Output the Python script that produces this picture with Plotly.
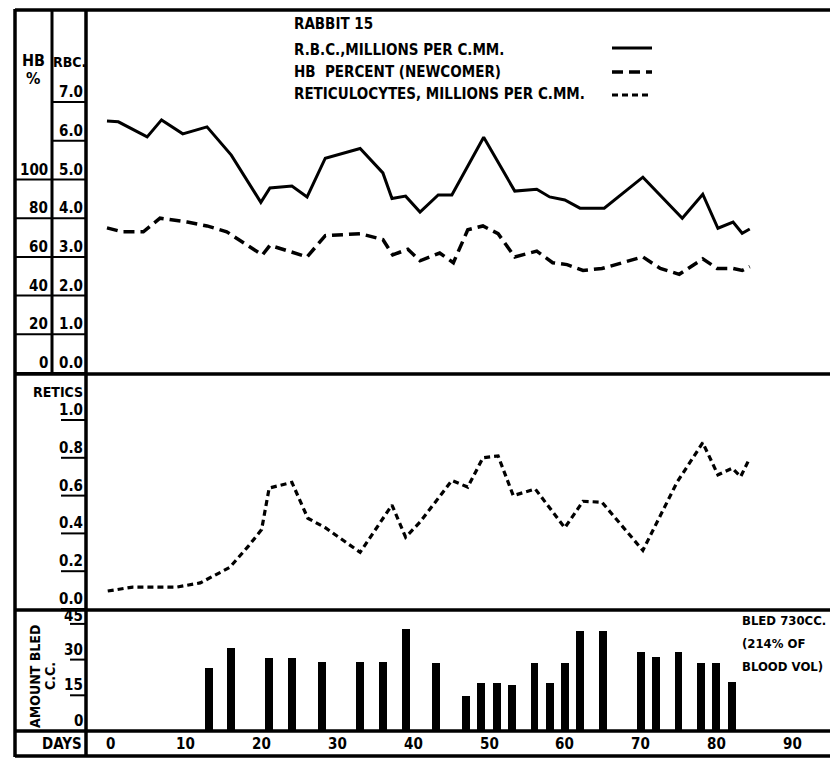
import plotly.graph_objects as go

# ---------------- data ----------------
rbc_days = [-0.4, 1.1, 4.9, 6.8, 9.6, 12.8, 16.0, 19.9, 21.1, 24.0, 26.0, 28.4, 33.0, 36.0,
            37.2, 39.0, 40.9, 43.3, 45.1, 49.3, 53.4, 56.3, 58.0, 60.0, 62.0, 65.2, 70.3,
            75.5, 78.2, 80.2, 82.2, 83.4, 84.4]
rbc_vals = [6.51, 6.49, 6.10, 6.54, 6.18, 6.36, 5.63, 4.41, 4.78, 4.83, 4.55, 5.55, 5.80, 5.17,
            4.51, 4.57, 4.16, 4.60, 4.60, 6.09, 4.70, 4.75, 4.55, 4.47, 4.26, 4.26, 5.06,
            4.00, 4.62, 3.74, 3.90, 3.61, 3.72]

hb_days = [-0.4, 1.6, 4.4, 6.6, 10.2, 12.8, 15.4, 20.1, 21.1, 23.7, 26.0, 28.4, 33.0, 36.0,
           37.3, 39.3, 40.9, 43.5, 45.3, 47.2, 49.2, 51.2, 53.4, 56.3, 58.4, 60.3, 62.4,
           64.9, 70.3, 72.6, 75.1, 78.2, 80.1, 82.2, 83.4, 84.4]
hb_vals = [75, 73, 73, 80, 78, 76, 73, 61, 66, 63, 60, 71, 72, 69,
           61, 64, 58, 62, 57, 74, 76, 72, 60, 63, 57, 56, 53,
           54, 60, 54, 51, 59, 54, 54, 53, 55]

ret_days = [-0.3, 3.0, 7.5, 8.8, 11.9, 15.8, 18.2, 20.0, 21.0, 24.0, 26.1, 28.4, 33.0, 37.2,
            39.0, 40.9, 45.1, 47.2, 49.2, 51.2, 53.2, 56.1, 60.0, 62.4, 64.9, 70.3, 74.8,
            78.2, 80.2, 82.1, 83.2, 84.3]
ret_vals = [0.095, 0.116, 0.116, 0.116, 0.138, 0.22, 0.33, 0.42, 0.64, 0.67, 0.48, 0.43, 0.30,
            0.55, 0.38, 0.46, 0.68, 0.645, 0.80, 0.81, 0.60, 0.635, 0.43, 0.57, 0.565, 0.31,
            0.67, 0.88, 0.71, 0.745, 0.70, 0.79]

bleed_days = [13, 16, 21, 24, 28, 33, 36, 39, 43, 47, 49, 51, 53, 56, 58, 60, 62, 65, 70, 72,
              75, 78, 80, 82]
bleed_cc = [26.5, 35, 30.5, 30.5, 29, 29, 29, 43, 28.5, 14.5, 20, 20, 19.5, 28.5, 20, 28.5,
            42, 42, 33, 31, 33, 28.5, 28.5, 20.5]

rbc_ticks = [0.0, 1.0, 2.0, 3.0, 4.0, 5.0, 6.0, 7.0]
hb_ticks = [0, 20, 40, 60, 80, 100]
ret_ticks = [0.0, 0.2, 0.4, 0.6, 0.8, 1.0]
bled_ticks = [0, 15, 30, 45]
day_ticks = [0, 10, 20, 30, 40, 50, 60, 70, 80, 90]

legend_lines = ["RABBIT 15", "R.B.C.,MILLIONS PER C.MM.", "HB  PERCENT (NEWCOMER)",
                "RETICULOCYTES, MILLIONS PER C.MM."]
bled_note = ["BLED 730CC.", "(214% OF", "BLOOD VOL)"]

# ---------------- layout geometry (page pixels; page has an 8px body margin) ----------------
OFF = 8
W, H = 838 - OFF, 759 - OFF
PX0, PX1 = 86, 836      # plot area, page x
PY0, PY1 = 8, 757       # plot area, page y
L, R = PX0 - OFF, W - (PX1 - OFF)
T, B = PY0 - OFF, H - (PY1 - OFF)
PW, PH = PX1 - PX0, PY1 - PY0


def px(x):
    return (x - PX0) / PW


def py(y):
    return (PY1 - y) / PH


FONT = "Liberation Sans Narrow, Arial Narrow, DejaVu Sans Condensed, sans-serif"
K = "black"

fig = go.Figure()

fig.add_trace(go.Scatter(x=rbc_days, y=rbc_vals, mode="lines", xaxis="x", yaxis="y",
                         line=dict(color=K, width=3), showlegend=False))
fig.add_trace(go.Scatter(x=hb_days, y=hb_vals, mode="lines", xaxis="x", yaxis="y4",
                         line=dict(color=K, width=3.5, dash="11px,6px"), showlegend=False))
fig.add_trace(go.Scatter(x=ret_days, y=ret_vals, mode="lines", xaxis="x2", yaxis="y2",
                         line=dict(color=K, width=3.2, dash="6px,4px"), showlegend=False))
fig.add_trace(go.Bar(x=bleed_days, y=bleed_cc, xaxis="x3", yaxis="y3", width=1.05,
                     marker=dict(color=K, line=dict(width=0)), showlegend=False))

xr = [(PX0 - 110) / 7.58, (PX1 - 110) / 7.58]
rbc_r = [(373 - 374) / 38.7, (373 - PY0) / 38.7]
ret_r = [(609 - 610) / 189.0, (609 - 374) / 189.0]
bled_r = [0, (731 - 610) / 2.38]

hidden = dict(visible=False, showgrid=False, zeroline=False, fixedrange=True)
fig.update_layout(
    width=W, height=H,
    margin=dict(l=L, r=R, t=T, b=B, pad=0),
    paper_bgcolor="white", plot_bgcolor="white",
    bargap=0,
    font=dict(family=FONT, color=K),
    xaxis=dict(domain=[0, 1], range=xr, anchor="y", **hidden),
    xaxis2=dict(domain=[0, 1], range=xr, anchor="y2", matches="x", **hidden),
    xaxis3=dict(domain=[0, 1], range=xr, anchor="y3", matches="x", **hidden),
    yaxis=dict(domain=[py(374), 1], range=rbc_r, anchor="x", **hidden),
    yaxis4=dict(range=[v * 20 for v in rbc_r], overlaying="y", anchor="x", **hidden),
    yaxis2=dict(domain=[py(610), py(374)], range=ret_r, anchor="x2", **hidden),
    yaxis3=dict(domain=[py(731), py(610)], range=bled_r, anchor="x3", **hidden),
)

shapes = []
ann = []


def pline(x0, y0, x1, y1, w=3.5):
    shapes.append(dict(type="line", xref="paper", yref="paper", x0=px(x0), x1=px(x1),
                       y0=py(y0), y1=py(y1), line=dict(color=K, width=w), layer="above"))


def text(x, y, s, size=15, xa="left", ya="middle", angle=0, xref="paper", yref="paper",
         yshift=0):
    ann.append(dict(x=x, y=y, xref=xref, yref=yref, text="<b>" + s + "</b>", showarrow=False,
                    xanchor=xa, yanchor=ya, textangle=angle, yshift=yshift, borderpad=0,
                    font=dict(family=FONT, size=size, color=K)))


# frame
pline(15, 10, 838, 10)
pline(15, 9, 15, 757)
pline(15, 756, 836, 756)
pline(15, 374, 838, 374)
pline(15, 610, 838, 610)
pline(15, 731, 836, 731)
pline(86, 9, 86, 757)
pline(52, 9, 52, 374, 3)
pline(834, 610, 834, 757, 3)

# left column headers
text(px(33), py(61), "HB", 16, "center")
text(px(33), py(78), "%", 16, "center")
text(px(69), py(62), "RBC.", 14, "center")
text(px(58), py(392), "RETICS", 14, "center")
text(px(35), py(676), "AMOUNT BLED", 14, "center", angle=-90)
text(px(50), py(676), "C.C.", 14, "center", angle=-90)
text(px(62), py(744), "DAYS", 15, "center")

# RBC ticks
for v in rbc_ticks:
    text(px(84), v, f"{v:.1f}", 15, "right", "bottom", yref="y")
    shapes.append(dict(type="line", xref="paper", yref="y", x0=px(52), x1=px(86), y0=v, y1=v,
                       line=dict(color=K, width=2)))
# HB ticks
for v in hb_ticks:
    text(px(49), v, f"{v}", 15, "right", "bottom", yref="y4")
    shapes.append(dict(type="line", xref="paper", yref="y4", x0=px(15), x1=px(52), y0=v, y1=v,
                       line=dict(color=K, width=2)))
# retic ticks
for v in ret_ticks:
    text(px(84), v, f"{v:.1f}", 15, "right", "bottom", yref="y2")
    shapes.append(dict(type="line", xref="paper", yref="y2", x0=px(61), x1=px(86), y0=v, y1=v,
                       line=dict(color=K, width=2)))
# bled ticks
for v in bled_ticks:
    text(px(84), v, f"{v}", 15, "right", "bottom", yref="y3", yshift=-2 if v == 45 else 0)
    if v > 0:
        shapes.append(dict(type="line", xref="paper", yref="y3", x0=px(70), x1=px(86), y0=v,
                           y1=v, line=dict(color=K, width=2)))
# day ticks
for d in day_ticks:
    text(d, py(744), f"{d}", 15, "center", xref="x")

# legend block
for s, yy in zip(legend_lines, [24, 50, 72, 94]):
    text(px(293), py(yy), s, 15)
shapes.append(dict(type="line", xref="paper", yref="paper", x0=px(612), x1=px(652),
                   y0=py(48), y1=py(48), line=dict(color=K, width=3)))
shapes.append(dict(type="line", xref="paper", yref="paper", x0=px(612), x1=px(652),
                   y0=py(72), y1=py(72), line=dict(color=K, width=3.5, dash="11px,6px")))
shapes.append(dict(type="line", xref="paper", yref="paper", x0=px(612), x1=px(652),
                   y0=py(95), y1=py(95), line=dict(color=K, width=3, dash="6px,4px")))

# bled note
for s, yy in zip(bled_note, [620, 643, 666]):
    text(px(741), py(yy), s, 13)

fig.update_layout(shapes=shapes, annotations=ann)
fig.write_html("out.html")
